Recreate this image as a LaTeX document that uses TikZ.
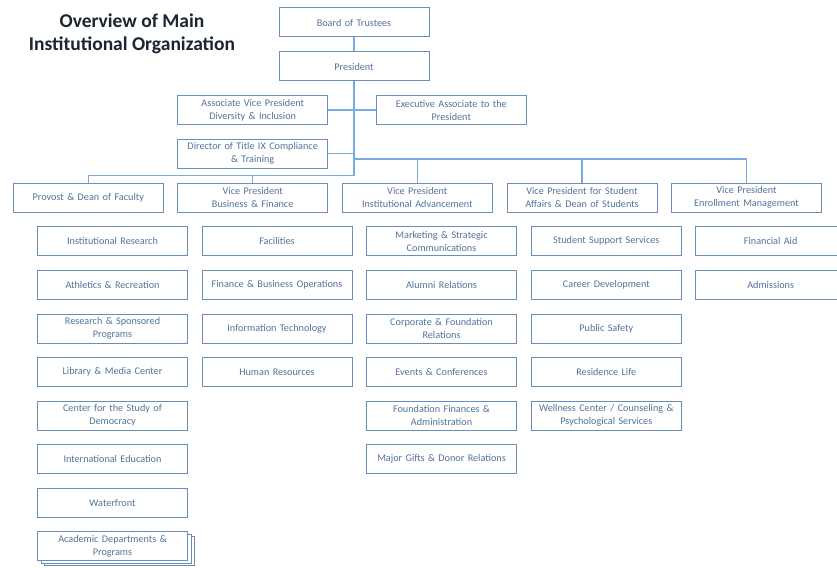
\documentclass[tikz,border=0pt]{standalone}
\usepackage{fontspec}
\setmainfont{Carlito}
\usetikzlibrary{positioning}
\definecolor{boxline}{HTML}{6A8EBB}
\definecolor{boxtext}{HTML}{52739C}
\definecolor{conn}{HTML}{7AAAE0}
\definecolor{titlec}{HTML}{1B2430}
\tikzset{
  orgbox/.style={draw=boxline, line width=1pt, fill=white, minimum width=150pt, minimum height=29pt,
    inner sep=1pt, align=center, font=\fontsize{10.2}{13}\selectfont, text=boxtext, text width=146pt},
  link/.style={draw=conn, line width=1.1pt},
}
\begin{document}
\begin{tikzpicture}[x=1pt,y=-1pt]
\useasboundingbox (0,0) rectangle (837,567);
\clip (0,0) rectangle (837,567);
% title
\node[font=\fontsize{19.5}{23}\selectfont\bfseries, text=titlec, align=center] (title) at (132,34) {Overview of Main\\Institutional Organization};
% top
\node[orgbox] (bot) at (354,22.5) {Board of Trustees};
\node[orgbox] (pres) at (354,66.5) {President};
\node[orgbox] (avp) at (252.7,110) {Associate Vice President\\Diversity \& Inclusion};
\node[orgbox] (exe) at (451.3,110) {Executive Associate to the\\President};
\node[orgbox] (tix) at (252.7,153.7) {Director of Title IX Compliance\\\& Training};
% VPs
\node[orgbox] (prov) at (88.3,197.5) {Provost \& Dean of Faculty};
\node[orgbox] (bus) at (252.7,197.5) {Vice President\\Business \& Finance};
\node[orgbox] (adv) at (417.3,197.5) {Vice President\\Institutional Advancement};
\node[orgbox] (stu) at (582,197.5) {Vice President for Student\\Affairs \& Dean of Students};
\node[orgbox] (enr) at (746.5,197.5) {Vice President\\Enrollment Management};
% connectors
\coordinate (jl) at (354,175.7);
\coordinate (jr) at (354,159);
\coordinate (jt) at (354,153.7);
\draw[link] (bot.south) -- (pres.north);
\draw[link] (pres.south) -- (jl);
\draw[link] (avp.east) -- (exe.west);
\draw[link] (tix.east) -- (jt);
\draw[link] (prov.north) |- (jl);
\draw[link] (bus.north) |- (jl);
\draw[link] (jr) -| (adv.north);
\draw[link] (jr) -| (stu.north);
\draw[link] (jr) -| (enr.north);
% column 1
\node[orgbox] (c1a) at (112.5,241) {Institutional Research};
\node[orgbox] (c1b) at (112.5,284.8) {Athletics \& Recreation};
\node[orgbox] (c1c) at (112.5,328.5) {Research \& Sponsored\\Programs};
\node[orgbox] (c1d) at (112.5,372) {Library \& Media Center};
\node[orgbox] (c1e) at (112.5,415.7) {Center for the Study of\\Democracy};
\node[orgbox] (c1f) at (112.5,459.3) {International Education};
\node[orgbox] (c1g) at (112.5,503) {Waterfront};
\node[orgbox] (c1hb) at (119.5,551.3) {};
\node[orgbox] (c1hm) at (116,548.8) {};
\node[orgbox] (c1h) at (112.5,546.3) {Academic Departments \&\\Programs};
% column 2
\node[orgbox] (c2a) at (277,241) {Facilities};
\node[orgbox] (c2b) at (277,284.8) {Finance \& Business Operations};
\node[orgbox] (c2c) at (277,328.5) {Information Technology};
\node[orgbox] (c2d) at (277,372) {Human Resources};
% column 3
\node[orgbox] (c3a) at (441.5,241) {Marketing \& Strategic\\Communications};
\node[orgbox] (c3b) at (441.5,284.8) {Alumni Relations};
\node[orgbox] (c3c) at (441.5,328.5) {Corporate \& Foundation\\Relations};
\node[orgbox] (c3d) at (441.5,372) {Events \& Conferences};
\node[orgbox] (c3e) at (441.5,415.7) {Foundation Finances \&\\Administration};
\node[orgbox] (c3f) at (441.5,459.3) {Major Gifts \& Donor Relations};
% column 4
\node[orgbox] (c4a) at (606.3,241) {Student Support Services};
\node[orgbox] (c4b) at (606.3,284.8) {Career Development};
\node[orgbox] (c4c) at (606.3,328.5) {Public Safety};
\node[orgbox] (c4d) at (606.3,372) {Residence Life};
\node[orgbox] (c4e) at (606.3,415.7) {Wellness Center / Counseling \&\\Psychological Services};
% column 5
\node[orgbox] (c5a) at (770.7,241) {Financial Aid};
\node[orgbox] (c5b) at (770.7,284.8) {Admissions};
\end{tikzpicture}
\end{document}
